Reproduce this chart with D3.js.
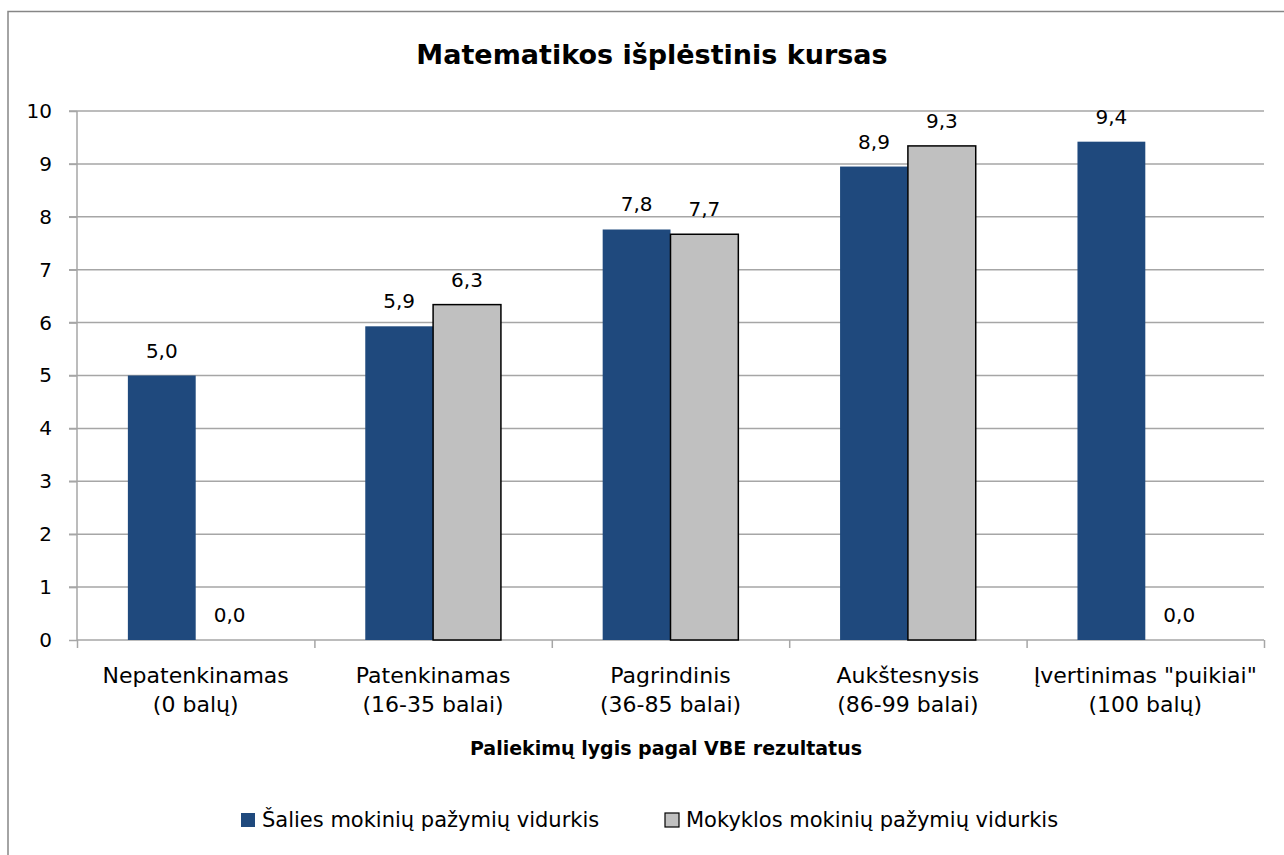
<!DOCTYPE html>
<html>
<head>
<meta charset="utf-8">
<script src="https://cdn.jsdelivr.net/npm/d3@7"></script>
<style>
  body { margin: 0; background: #fff; }
  svg { display: block; font-family: "DejaVu Sans", sans-serif; }
</style>
</head>
<body>
<div id="chart"></div>
<script>
// data
const categories = [
  ["Nepatenkinamas", "(0 balų)"],
  ["Patenkinamas", "(16-35 balai)"],
  ["Pagrindinis", "(36-85 balai)"],
  ["Aukštesnysis", "(86-99 balai)"],
  ["Įvertinimas \"puikiai\"", "(100 balų)"]
];
const seriesNames = ["Šalies mokinių pažymių vidurkis", "Mokyklos mokinių pažymių vidurkis"];
const salies = [5.0, 5.93, 7.76, 8.95, 9.42];
const mokyklos = [0.0, 6.34, 7.67, 9.34, 0.0];
const yTicks = [0, 1, 2, 3, 4, 5, 6, 7, 8, 9, 10];
const colors = ["#1f497d", "#c0c0c0"];

const width = 1284, height = 855;
const plot = { left: 77, right: 1264, top: 111, bottom: 640 };

const svg = d3.select("#chart").append("svg")
  .attr("width", width)
  .attr("height", height);

// outer chart border
svg.append("rect")
  .attr("x", 8).attr("y", 11.5)
  .attr("width", 1290).attr("height", 860)
  .attr("fill", "#fff")
  .attr("stroke", "#868686")
  .attr("stroke-width", 1.5);

const y = d3.scaleLinear().domain([0, 10]).range([plot.bottom, plot.top]);
const x = d3.scaleBand().domain(d3.range(categories.length)).range([plot.left, plot.right]);
const bw = x.bandwidth() / 3.5; // gap width 150%
const xs = d3.scaleBand().domain([0, 1]).range([bw * 0.75, bw * 2.75]);

// gridlines
svg.append("g").selectAll("line")
  .data(yTicks.filter(d => d > 0))
  .enter().append("line")
  .attr("x1", plot.left - 8).attr("x2", plot.right)
  .attr("y1", d => y(d)).attr("y2", d => y(d))
  .attr("stroke", "#a6a6a6").attr("stroke-width", 1.5);

// y axis
const yAxis = svg.append("g")
  .attr("transform", `translate(${plot.left},0)`)
  .call(d3.axisLeft(y).tickValues(yTicks).tickSize(8).tickPadding(17).tickFormat(d3.format("d")));
yAxis.select(".domain").attr("stroke", "#a6a6a6").attr("stroke-width", 1.5).attr("d", `M0,${plot.top}V${plot.bottom}`);
yAxis.selectAll(".tick line").attr("stroke", "#a6a6a6").attr("stroke-width", 1.5);
yAxis.selectAll(".tick text").attr("font-size", 20).attr("fill", "#000").attr("font-family", "DejaVu Sans");

// x axis
const xb = d3.scaleLinear().domain([0, categories.length]).range([plot.left, plot.right]);
const xAxis = svg.append("g")
  .attr("transform", `translate(0,${plot.bottom})`)
  .call(d3.axisBottom(xb).tickValues(d3.range(categories.length + 1)).tickSize(8).tickFormat(""));
xAxis.select(".domain").attr("stroke", "#a6a6a6").attr("stroke-width", 1.5).attr("d", `M${plot.left},0H${plot.right}`);
xAxis.selectAll(".tick line").attr("stroke", "#a6a6a6").attr("stroke-width", 1.5);

// bars
const series = [salies, mokyklos];
series.forEach((vals, s) => {
  const g = svg.append("g");
  g.selectAll("rect")
    .data(vals.map((v, i) => ({ v, i })).filter(d => d.v > 0))
    .enter().append("rect")
    .attr("x", d => x(d.i) + xs(s))
    .attr("width", xs.bandwidth())
    .attr("y", d => y(d.v))
    .attr("height", d => y(0) - y(d.v))
    .attr("fill", colors[s])
    .attr("stroke", s == 1 ? "#000" : "none")
    .attr("stroke-width", 1.5);
  g.selectAll("text")
    .data(vals.map((v, i) => ({ v, i })))
    .enter().append("text")
    .attr("x", d => x(d.i) + xs(s) + xs.bandwidth() / 2)
    .attr("y", d => y(d.v) - 18)
    .attr("text-anchor", "middle")
    .attr("font-size", 20)
    .text(d => d.v.toFixed(1).replace(".", ","));
});

// category labels
const cat = svg.append("g").selectAll("text")
  .data(categories)
  .enter().append("text")
  .attr("text-anchor", "middle")
  .attr("font-size", 22);
cat.append("tspan").attr("x", (d, i) => x(i) + x.bandwidth() / 2).attr("y", 683).text(d => d[0]);
cat.append("tspan").attr("x", (d, i) => x(i) + x.bandwidth() / 2).attr("y", 712).text(d => d[1]);

// axis title
svg.append("text")
  .attr("x", 666).attr("y", 755)
  .attr("text-anchor", "middle").attr("font-size", 19).attr("font-weight", "bold")
  .text("Paliekimų lygis pagal VBE rezultatus");

// title
svg.append("text")
  .attr("x", 652).attr("y", 64)
  .attr("text-anchor", "middle").attr("font-size", 27).attr("font-weight", "bold")
  .text("Matematikos išplėstinis kursas");

// legend
const legendX = [241, 665];
const leg = svg.append("g").selectAll("g")
  .data(seriesNames)
  .enter().append("g")
  .attr("transform", (d, i) => `translate(${legendX[i]},813)`);
leg.append("rect")
  .attr("width", 14).attr("height", 14)
  .attr("fill", (d, i) => colors[i])
  .attr("stroke", (d, i) => i == 1 ? "#000" : "none")
  .attr("stroke-width", 1.2);
leg.append("text")
  .attr("x", 21).attr("y", 14)
  .attr("font-size", 21)
  .text(d => d);
</script>
</body>
</html>
